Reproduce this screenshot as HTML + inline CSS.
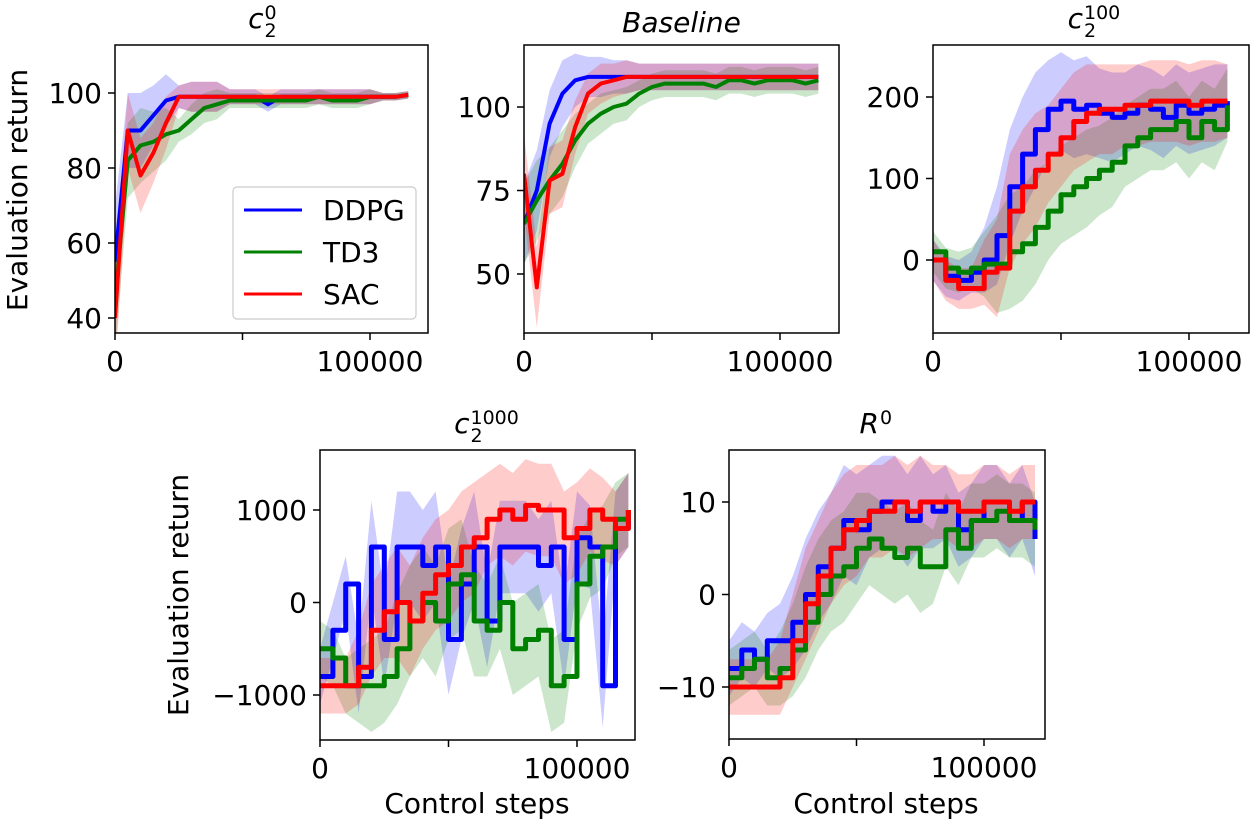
<!DOCTYPE html>
<html><head><meta charset="utf-8">
<style>
html,body{margin:0;padding:0;background:#fff;}
svg{display:block;font-family:"DejaVu Sans","Liberation Sans",sans-serif;}
</style></head>
<body>
<svg id="fig" width="1257" height="826" viewBox="0 0 1257 826"></svg>
<script>
// ---- data (x sampled every 5000 control steps) ----
const steps = [0,5000,10000,15000,20000,25000,30000,35000,40000,45000,50000,55000,60000,65000,70000,75000,80000,85000,90000,95000,100000,105000,110000,115000,120000];
const seriesNames = ["DDPG","TD3","SAC"];
// panel c2^0
const p1DDPG = [55,90,90,94,98,99,99,99,99,99,99,99,97,99,99,99,99,99,99,99,99,99,99,99.5];
const p1TD3  = [45,82,86,87,89,90,93,96,97,98,98,98,98,98,98,98,99,98,98,98,99,99,99,99.5];
const p1SAC  = [40,90,78,84,92,99,99,99,99,99,99,99,99,99,99,99,99,99,99,99,99,99,99,99.5];
const p1Spread = [15,10,10,8,7,3,4,4,4,2,2,2,2,2,2,2,2,2,2,2,2,1,1,1];
// panel Baseline
const p2DDPG = [65,75,95,104,108,109,109,109,109,109,109,109,109,109,109,109,109,109,109,109,109,109,109,109];
const p2TD3  = [65,72,78,83,90,95,98,100,101,104,106,107,107,107,107,106,108,108,107,108,108,108,107,108];
const p2SAC  = [80,46,78,80,94,104,107,108,109,109,109,109,109,109,109,109,109,109,109,109,109,109,109,109];
const p2Spread = [12,12,10,10,8,6,6,5,5,4,4,4,4,4,4,4,4,4,4,4,4,4,4,4];
// panel c2^100
const p3DDPG = [0,-20,-25,-15,0,30,90,130,160,185,195,185,190,180,175,180,190,185,175,190,180,185,190,195];
const p3TD3  = [10,-10,-15,-10,-5,-5,10,20,40,60,80,90,100,110,120,140,150,160,160,170,150,170,160,190];
const p3SAC  = [0,-25,-35,-35,-15,-10,60,90,110,130,150,170,180,185,185,190,190,195,195,195,190,195,195,195];
const p3Spread = [25,25,25,25,40,60,70,70,70,60,60,60,60,55,55,50,50,50,50,50,50,50,50,45];
// panel c2^1000
const p4DDPG = [-800,-300,200,-800,600,-400,600,600,400,600,-400,200,600,-200,600,600,600,400,600,-400,700,600,-900,800,1000];
const p4TD3  = [-500,-600,-900,-900,-900,-800,-500,-200,0,-200,200,300,-200,-300,0,-500,-400,-300,-900,-800,200,500,600,900,1000];
const p4SAC  = [-900,-900,-900,-700,-300,-100,0,-200,100,300,400,600,700,900,1000,900,1050,1000,1000,700,800,1000,900,800,1000];
const p4Spread = [300,300,300,400,500,500,600,600,600,600,600,600,600,500,500,500,500,500,500,500,500,450,450,400,400];
// panel R^0
const p5DDPG = [-8,-6,-7,-5,-5,-3,0,3,5,8,7,9,10,10,8,10,9,10,7,8,10,10,8,10,6];
const p5TD3  = [-9,-8,-7,-9,-8,-6,-3,0,2,3,5,6,5,4,5,3,3,7,5,8,8,9,8,8,7];
const p5SAC  = [-10,-10,-10,-10,-9,-5,-1,2,5,7,8,9,9,10,9,10,10,10,9,9,10,10,9,10,10];
const p5Spread = [3,3,3,3,4,5,6,6,6,6,6,5,5,5,5,5,4,4,4,4,4,4,4,4,4];
const p1Ticks = [40,60,80,100];
const p2Ticks = [50,75,100];
const p3Ticks = [0,100,200];
const p4Ticks = [-1000,0,1000];
const p5Ticks = [-10,0,10];

const NS = "http://www.w3.org/2000/svg";
const fig = document.getElementById("fig");
const colors = ["#0000ff","#008000","#ff0000"];
function mk(tag, attrs, parent){
  const e = document.createElementNS(NS, tag);
  for (const k in attrs) e.setAttribute(k, attrs[k]);
  (parent||fig).appendChild(e);
  return e;
}
function fmt(t){ return t < 0 ? "\u2212" + (-t) : String(t); }
function panel(cfg){
  const g = mk("g", {});
  
  
  const X = v => cfg.x0 + v * (cfg.x100k - cfg.x0) / 100000;
  const Y = v => cfg.ya + (v - cfg.va) * (cfg.yb - cfg.ya) / (cfg.vb - cfg.va);
  const clipId = "clip-" + cfg.name;
  const cp = mk("clipPath", {id: clipId}, g);
  mk("rect", {x: cfg.L, y: cfg.T, width: cfg.R - cfg.L, height: cfg.B - cfg.T}, cp);
  const plot = mk("g", {"clip-path": "url(#" + clipId + ")"}, g);
  const sets = cfg.series;
  sets.forEach((s, si) => {
    let top = "", bot = "";
    for (let i = 0; i < s.length; i++) {
      top += (i ? "L" : "M") + X(steps[i]).toFixed(1) + " " + Y(s[i] + cfg.spread[i]).toFixed(1);
    }
    for (let i = s.length - 1; i >= 0; i--) {
      bot += "L" + X(steps[i]).toFixed(1) + " " + Y(s[i] - cfg.spread[i]).toFixed(1);
    }
    const band = mk("path", {d: top + bot + "Z", fill: colors[si], "fill-opacity": 0.2, stroke: "none"}, plot);
    
    
  });
  sets.forEach((s, si) => {
    let d = "";
    for (let i = 0; i < s.length; i++) {
      const xx = X(steps[i]), yy = Y(s[i]);
      if (i === 0) d += "M" + xx.toFixed(1) + " " + yy.toFixed(1);
      else if (cfg.stepLine) d += "H" + xx.toFixed(1) + "V" + yy.toFixed(1);
      else d += "L" + xx.toFixed(1) + " " + yy.toFixed(1);
    }
    const line = mk("path", {d: d, fill: "none", stroke: colors[si], "stroke-width": cfg.lw, "stroke-linejoin": "round"}, plot);
    
    
  });
  const frame = mk("rect", {x: cfg.L, y: cfg.T, width: cfg.R - cfg.L, height: cfg.B - cfg.T, fill: "none", stroke: "#000", "stroke-width": 1.5}, g);
  
  
  cfg.ticks.forEach(t => {
    const yy = Y(t);
    mk("line", {x1: cfg.L - 7, x2: cfg.L, y1: yy, y2: yy, stroke: "#000", "stroke-width": 1.5}, g);
    const lab = mk("text", {x: cfg.L - 13, y: yy + 10, "text-anchor": "end", "font-size": 28}, g);
    lab.textContent = fmt(t);
    
    
  });
  [0, 50000, 100000].forEach(t => {
    const xx = X(t);
    mk("line", {x1: xx, x2: xx, y1: cfg.B, y2: cfg.B + 7, stroke: "#000", "stroke-width": 1.5}, g);
    if (t !== 50000) {
      const lab = mk("text", {x: xx, y: cfg.B + 38, "text-anchor": "middle", "font-size": 28}, g);
      lab.textContent = t;
      
      
    }
  });
  const cx = (cfg.L + cfg.R) / 2;
  const tg = mk("g", {}, g);
  
  
  if (cfg.sup !== undefined) {
    const main = mk("text", {x: cx - 8, y: cfg.T - 17, "text-anchor": "end", "font-size": 28, "font-style": "italic"}, tg);
    main.textContent = cfg.title;
    if (cfg.sub) {
      const sb = mk("text", {x: cx - 7, y: cfg.T - 8, "font-size": 19}, tg);
      sb.textContent = cfg.sub;
    }
    const sp = mk("text", {x: cx - 7, y: cfg.T - 26, "font-size": 19}, tg);
    sp.textContent = cfg.sup;
  } else {
    const main = mk("text", {x: cx, y: cfg.T - 13, "text-anchor": "middle", "font-size": 28, "font-style": "italic"}, tg);
    main.textContent = cfg.title;
  }
}
panel({name:"panel-c2-0", L:115,R:428,T:45,B:333, x0:115,x100k:370, va:100,ya:93, vb:40,yb:318,
  ticks:p1Ticks, series:[p1DDPG,p1TD3,p1SAC], spread:p1Spread, lw:4, stepLine:false, title:'c', sub:'2', sup:'0'});
panel({name:"panel-baseline", L:524,R:839,T:45,B:333, x0:524,x100k:780, va:100,ya:107, vb:50,yb:274,
  ticks:p2Ticks, series:[p2DDPG,p2TD3,p2SAC], spread:p2Spread, lw:4, stepLine:false, title:'Baseline'});
panel({name:"panel-c2-100", L:933,R:1249,T:45,B:333, x0:933,x100k:1189, va:200,ya:97, vb:0,yb:260,
  ticks:p3Ticks, series:[p3DDPG,p3TD3,p3SAC], spread:p3Spread, lw:5, stepLine:true, title:'c', sub:'2', sup:'100'});
panel({name:"panel-c2-1000", L:320,R:635,T:450,B:740, x0:320,x100k:577, va:1000,ya:510, vb:-1000,yb:695,
  ticks:p4Ticks, series:[p4DDPG,p4TD3,p4SAC], spread:p4Spread, lw:5, stepLine:true, title:'c', sub:'2', sup:'1000'});
panel({name:"panel-r0", L:729,R:1045,T:450,B:739, x0:729,x100k:984, va:10,ya:502, vb:-10,yb:687,
  ticks:p5Ticks, series:[p5DDPG,p5TD3,p5SAC], spread:p5Spread, lw:5, stepLine:true, title:'R', sup:'0'});

const lg = mk("g", {});


mk("rect", {x: 233, y: 187, width: 183, height: 132, rx: 4, fill: "#fff", "fill-opacity": 0.85, stroke: "#ccc", "stroke-width": 1.2}, lg);
seriesNames.forEach((nm, i) => {
  const yy = 210 + i * 42;
  const ent = mk("g", {}, lg);
  
  
  mk("line", {x1: 244, x2: 302, y1: yy, y2: yy, stroke: colors[i], "stroke-width": 3}, ent);
  const t = mk("text", {x: 323, y: yy + 10, "font-size": 28}, ent);
  t.textContent = nm;
});
function label(txt, x, y, rot, name){
  const t = mk("text", {x: x, y: y, "text-anchor": "middle", "font-size": 28, transform: rot ? "rotate(-90 " + x + " " + y + ")" : ""});
  t.textContent = txt;
  
  
}
label("Evaluation return", 27, 190, true, "y-axis-title-top");
label("Evaluation return", 188, 595, true, "y-axis-title-bottom");
label("Control steps", 477, 813, false, "x-axis-title-left");
label("Control steps", 886, 813, false, "x-axis-title-right");
</script>
</body></html>
